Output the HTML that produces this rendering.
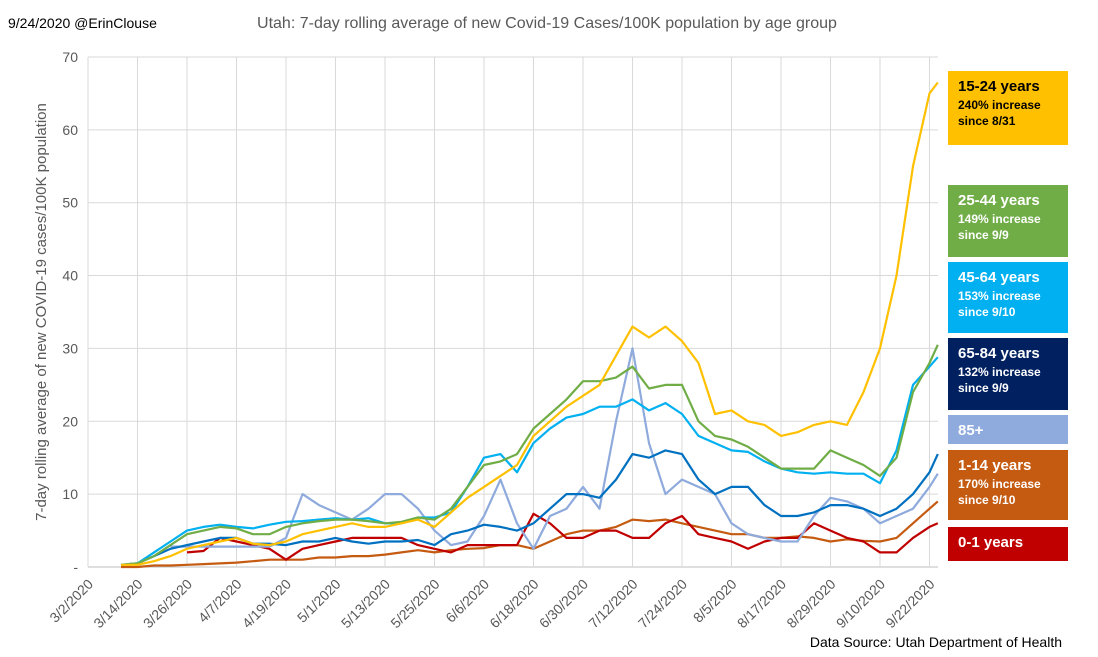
<!DOCTYPE html>
<html><head><meta charset="utf-8">
<style>
body{margin:0;background:#fff;font-family:"Liberation Sans",sans-serif;}
#wrap{position:relative;width:1098px;height:657px;overflow:hidden;background:#fff;}
.box{position:absolute;left:948px;width:120px;color:#fff;padding:6px 0 0 10px;box-sizing:border-box;font-size:12px;font-weight:bold;line-height:16px;}
.box b{font-size:15px;display:block;line-height:20px;}
</style></head><body>
<div id="wrap">
<svg id="chart" width="1098" height="657"></svg>
<div class="box" style="top:71px;height:74px;background:#ffc000;color:#000"><b>15-24 years</b>240% increase<br>since 8/31</div>
<div class="box" style="top:185px;height:72px;background:#70ad47"><b>25-44 years</b>149% increase<br>since 9/9</div>
<div class="box" style="top:262px;height:71px;background:#00b0f0"><b>45-64 years</b>153% increase<br>since 9/10</div>
<div class="box" style="top:338px;height:72px;background:#002060"><b>65-84 years</b>132% increase<br>since 9/9</div>
<div class="box" style="top:415px;height:29px;background:#8faadc"><b>85+</b></div>
<div class="box" style="top:450px;height:70px;background:#c55a11"><b>1-14 years</b>170% increase<br>since 9/10</div>
<div class="box" style="top:527px;height:34px;background:#c00000"><b>0-1 years</b></div>
</div>
<script>
const days=[8,12,16,20,24,28,32,36,40,44,48,52,56,60,64,68,72,76,80,84,88,92,96,100,104,108,112,116,120,124,128,132,136,140,144,148,152,156,160,164,168,172,176,180,184,188,192,196,200,204,206];
const s1524=[0.3,0.3,0.8,1.5,2.5,3,3.5,4,3.2,3,3.5,4.5,5,5.5,6,5.5,5.5,6,6.5,5.5,7.5,9.5,11,12.5,14,18,20,22,23.5,25,29,33,31.5,33,31,28,21,21.5,20,19.5,18,18.5,19.5,20,19.5,24,30,40,55,65,66.5];
const s2544=[0.3,0.5,1.5,3,4.5,5,5.5,5.3,4.5,4.5,5.5,6,6.3,6.5,6.5,6.3,6,6.2,6.8,6.5,8,11,14,14.5,15.5,19,21,23,25.5,25.5,26,27.5,24.5,25,25,20,18,17.5,16.5,15,13.5,13.5,13.5,16,15,14,12.5,15,24,28,30.5];
const s4564=[0.3,0.5,2,3.5,5,5.5,5.8,5.5,5.3,5.8,6.2,6.3,6.5,6.7,6.5,6.7,6,6,6.8,6.8,7.5,11,15,15.5,13,17,19,20.5,21,22,22,23,21.5,22.5,21,18,17,16,15.8,14.5,13.5,13,12.8,13,12.8,12.8,11.5,16,25,27.5,28.8];
const s6584=[0.3,0.5,1.5,2.5,3,3.5,4,4,3.2,3.2,3,3.5,3.5,4,3.5,3.2,3.5,3.5,3.7,3,4.5,5,5.8,5.5,5,6,8,10,10,9.5,12,15.5,15,16,15.5,12,10,11,11,8.5,7,7,7.5,8.5,8.5,8,7,8,10,13,15.5];
const s85=[null,null,null,2.8,2.8,2.8,2.8,2.8,2.8,2.8,4,10,8.5,7.5,6.5,8,10,10,8,5,3,3.5,7,12,6,2.5,7,8,11,8,20,30,17,10,12,11,10,6,4.5,4,3.5,3.5,7,9.5,9,8,6,7,8,11,12.8];
const s114=[0,0,0.2,0.2,0.3,0.4,0.5,0.6,0.8,1,1,1,1.3,1.3,1.5,1.5,1.7,2,2.3,2,2.3,2.5,2.6,3,3,2.5,3.5,4.5,5,5,5.5,6.5,6.3,6.5,6,5.5,5,4.5,4.5,4,4,4.2,4,3.5,3.8,3.6,3.5,4,6,8,9];
const s01=[null,null,null,null,2,2.2,4,3.5,3,2.5,1,2.5,3,3.5,4,4,4,4,3,2.5,2,3,3,3,3,7.3,6,4,4,5,5,4,4,6,7,4.5,4,3.5,2.5,3.5,4,4,6,5,4,3.5,2,2,4,5.5,6];
const yTicks=[0,10,20,30,40,50,60,70];
const xLabels=["3/2/2020","3/14/2020","3/26/2020","4/7/2020","4/19/2020","5/1/2020","5/13/2020","5/25/2020","6/6/2020","6/18/2020","6/30/2020","7/12/2020","7/24/2020","8/5/2020","8/17/2020","8/29/2020","9/10/2020","9/22/2020"];
const NS="http://www.w3.org/2000/svg";
const svg=document.getElementById('chart');
const X0=88,PXD=4.125,Y0=567,PYU=7.286;
const xs=d=>X0+d*PXD, ys=v=>Y0-v*PYU;
function el(t,a,p){const e=document.createElementNS(NS,t);for(const k in a)e.setAttribute(k,a[k]);(p||svg).appendChild(e);return e;}
yTicks.forEach(v=>{
 const l=el('line',{x1:X0,x2:938,y1:ys(v),y2:ys(v),stroke:v===0?'#bfbfbf':'#d9d9d9','stroke-width':1});
 
 
 const t=el('text',{x:X0-10,y:ys(v)+5,'text-anchor':'end','font-size':14,fill:'#595959'});
 t.textContent=v===0?'-':v;
 
 
});
xLabels.forEach((s,i)=>{
 const x=xs(i*12);
 const l=el('line',{x1:x,x2:x,y1:ys(70),y2:Y0,stroke:'#d9d9d9','stroke-width':1});
 
 
 const t=el('text',{x:x+6,y:Y0+18,'text-anchor':'end','font-size':14,fill:'#595959',transform:`rotate(-45 ${x+6} ${Y0+18})`});
 t.textContent=s;
 
 
});
const series=[[s114,'#c55a11','line-1-14'],[s01,'#c00000','line-0-1'],[s85,'#8faadc','line-85-plus'],[s6584,'#0070c0','line-65-84'],[s4564,'#00b0f0','line-45-64'],[s2544,'#70ad47','line-25-44'],[s1524,'#ffc000','line-15-24']];
series.forEach(([vals,c,n])=>{
 let d='';let pen=false;
 vals.forEach((v,i)=>{if(v===null){pen=false;return;}d+=(pen?'L':'M')+xs(days[i]).toFixed(1)+','+ys(v).toFixed(1);pen=true;});
 const p=el('path',{d:d,fill:'none',stroke:c,'stroke-width':2.2,'stroke-linejoin':'round'});
 
 
});
const t1=el('text',{x:547,y:28,'text-anchor':'middle','font-size':16,fill:'#595959'});t1.textContent='Utah: 7-day rolling average of new Covid-19 Cases/100K population by age group';


const t2=el('text',{x:8,y:28,'font-size':14,fill:'#000'});t2.textContent='9/24/2020 @ErinClouse';


const t3=el('text',{x:46,y:312,'text-anchor':'middle','font-size':15,fill:'#595959',transform:'rotate(-90 46 312)'});t3.textContent='7-day rolling average of new COVID-19 cases/100K population';


const t4=el('text',{x:1062,y:647,'text-anchor':'end','font-size':14,fill:'#000'});t4.textContent='Data Source: Utah Department of Health';


</script>
</body></html>
